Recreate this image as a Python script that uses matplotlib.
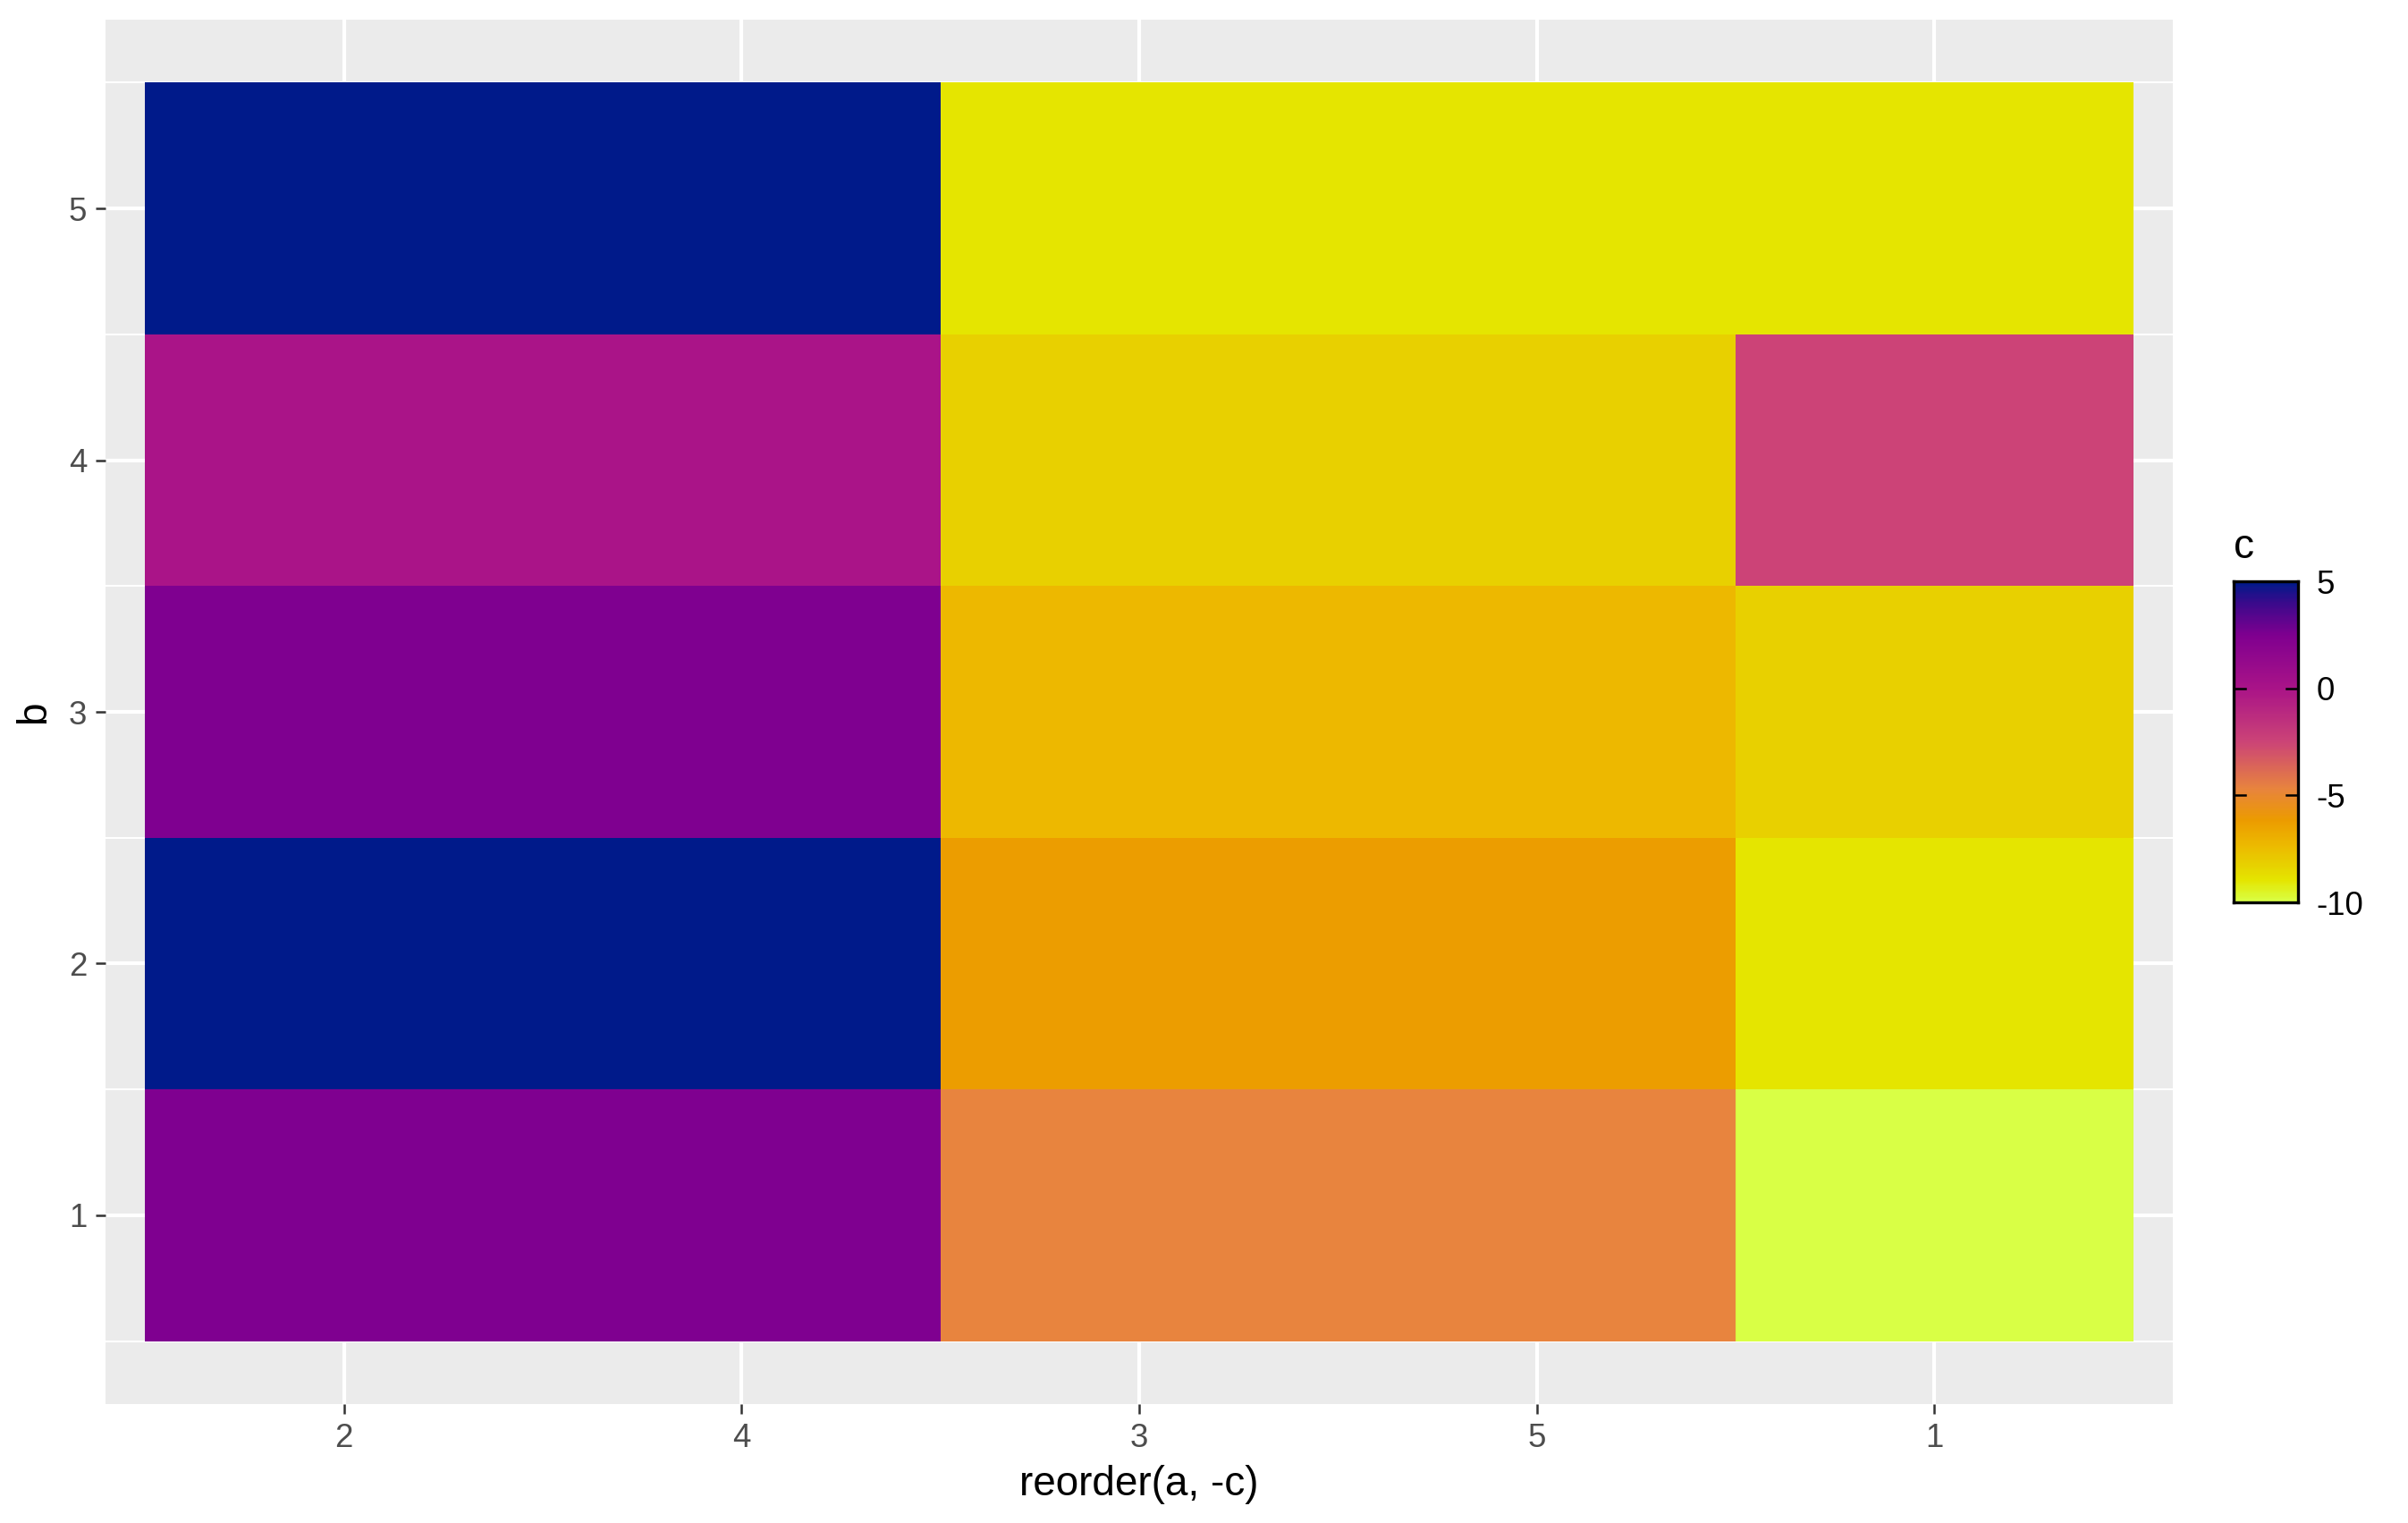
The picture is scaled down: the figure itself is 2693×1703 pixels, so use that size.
import numpy as np
import matplotlib
matplotlib.use("Agg")
import matplotlib.pyplot as plt
from matplotlib.colors import LinearSegmentedColormap, Normalize

# data
a_levels = ["2", "4", "3", "5", "1"]   # reorder(a, -c)
b_levels = [1, 2, 3, 4, 5]
# c[b][a] rows b=1..5, columns in a_levels order
c = np.array([
    [2.5, 2.5, -4.7, -4.7, -10.0],
    [5.0, 5.0, -6.2, -6.2, -9.0],
    [2.5, 2.5, -7.3, -7.3, -8.2],
    [0.0, 0.0, -8.2, -8.2, -2.5],
    [5.0, 5.0, -9.0, -9.0, -9.0],
])

stops = [-10, -9, -8.2, -7.3, -6.2, -4.7, -2.5, 0, 2.5, 4, 5]
stop_cols = ["#d9ff45", "#e5e500", "#e8cf00", "#edb800", "#ec9c00", "#e8843e",
             "#cc4477", "#aa1488", "#800090", "#3c0a8c", "#001a8a"]
vmin, vmax = -10, 5
cmap = LinearSegmentedColormap.from_list(
    "cfill", [((s - vmin) / (vmax - vmin), col) for s, col in zip(stops, stop_cols)])
norm = Normalize(vmin, vmax)

plt.rcParams['font.family'] = ['Liberation Sans', 'DejaVu Sans']
plt.rcParams['axes.unicode_minus'] = False
fig = plt.figure(figsize=(2693 / 300, 1703 / 300), dpi=300)
W, H = 2693, 1703
ax = fig.add_axes([118 / W, 1 - 1570 / H, (2430 - 118) / W, (1570 - 22) / H])
ax.set_facecolor("#ebebeb")

xpos = np.arange(1, len(a_levels) + 1)
xedges = np.arange(0.5, len(a_levels) + 1)
yedges = np.arange(0.5, len(b_levels) + 1)

# grid
for x in xpos:
    ax.axvline(x, color="white", lw=1.0, zorder=0)
for y in b_levels:
    ax.axhline(y, color="white", lw=1.0, zorder=0)
for y in yedges:
    ax.axhline(y, color="white", lw=0.5, zorder=0)

ax.pcolormesh(xedges, yedges, c, cmap=cmap, norm=norm, zorder=1)

ax.set_xlim(0.4, 5.6)
ax.set_ylim(0.25, 5.75)
ax.set_xticks(xpos)
ax.set_xticklabels(a_levels)
ax.set_yticks(b_levels)
for s in ax.spines.values():
    s.set_visible(False)
ax.tick_params(length=2.75, width=0.6, color="#333333", labelcolor="#4d4d4d",
               labelsize=8.8, pad=2.2)
ax.set_xlabel("reorder(a, -c)", fontsize=11, labelpad=3)
ax.set_ylabel("b", fontsize=11, labelpad=4)

# colourbar
cax = fig.add_axes([2498 / W, 1 - 1009 / H, (2570 - 2498) / W, (1009 - 650) / H])
grad = np.linspace(vmin, vmax, 300).reshape(-1, 1)
cax.imshow(grad, aspect="auto", origin="lower", cmap=cmap, norm=norm,
           extent=[0, 1, vmin, vmax])
cax.set_xlim(0, 1)
cax.set_ylim(vmin, vmax)
cax.set_xticks([])
cbt = [-10, -5, 0, 5]
cax.set_yticks(cbt)
cax.yaxis.tick_right()
cax.tick_params(axis="y", length=0, labelsize=8.8, labelcolor="black", pad=5)
for t in cbt:
    cax.plot([0, 0.18], [t, t], color="black", lw=0.6)
    cax.plot([0.82, 1], [t, t], color="black", lw=0.6)
for s in cax.spines.values():
    s.set_linewidth(0.8)
    s.set_color("black")
fig.text(2498 / W, 1 - 612 / H, "c", fontsize=11, va="center", ha="left")

fig.savefig("out.png", dpi=300, facecolor="white")
